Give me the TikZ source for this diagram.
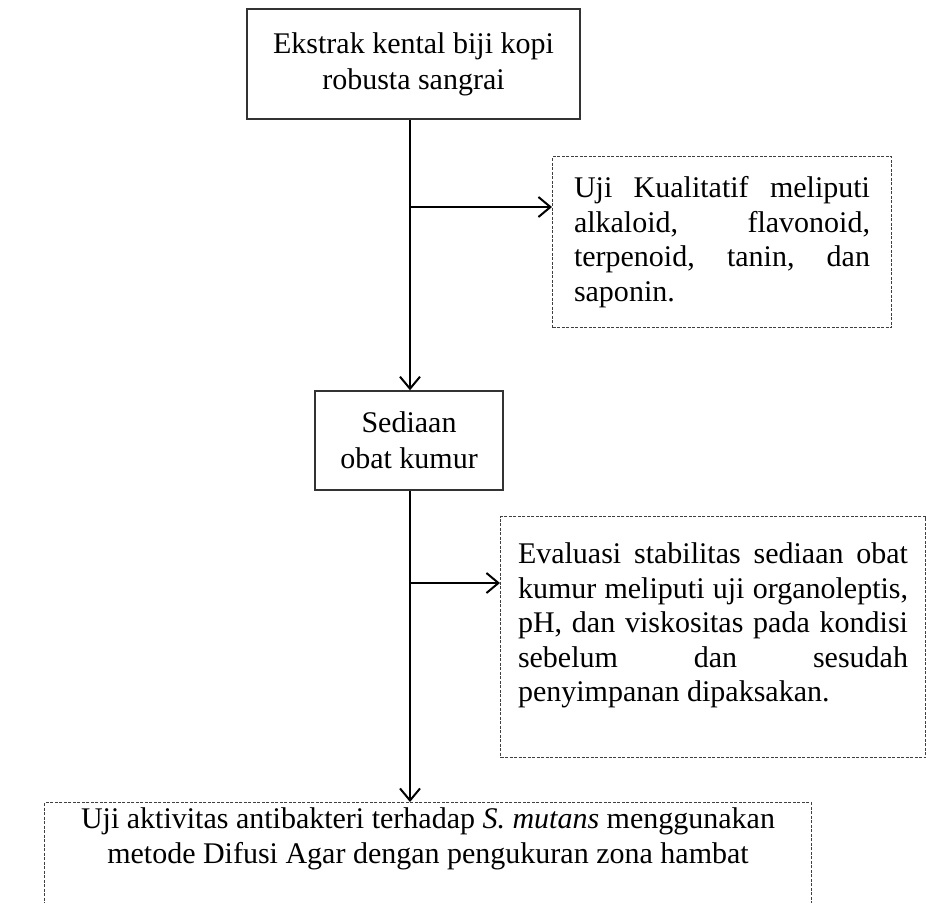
\documentclass[tikz,border=0pt]{standalone}
\usepackage{fontspec}
\setmainfont{Liberation Serif}
\usetikzlibrary{arrows.meta,calc}
\begin{document}
\begin{tikzpicture}[x=0.4pt,y=-0.4pt,
  txt/.style={font=\fontsize{12}{13.8}\selectfont},
  solidbox/.style={draw=black!80, line width=0.6pt, align=center, inner sep=0pt,
    font=\fontsize{12}{14.4}\selectfont},
  dotbox/.style={draw=black!75, line width=0.4pt, dash pattern=on 1.2pt off 0.6pt,
    txt},
  conn/.style={line width=1pt, draw=black},
  thinconn/.style={line width=0.55pt, draw=black},
  tip/.style={-{Straight Barb[length=4.8pt,width=8pt,line width=0.8pt]}}
]
\useasboundingbox (0,0) rectangle (926,902);

\coordinate (spine) at (410,0);
\coordinate (b1) at (410,207);
\coordinate (b2) at (410,583);

\node[solidbox, minimum width=133.2pt, minimum height=44pt] (top) at (413.5,64)
  {Ekstrak kental biji kopi\\robusta sangrai};

\node[dotbox, anchor=north west, text width=118.4pt, align=justify,
  inner xsep=8.6pt, inner ysep=0pt, minimum height=68.4pt] (q) at (552,156)
  {\hyphenpenalty=10000\tolerance=10000 Uji Kualitatif meliputi\linebreak
   alkaloid, flavonoid,\linebreak terpenoid, tanin, dan\linebreak saponin.};

\node[solidbox, minimum width=75.2pt, minimum height=39.6pt] (sed) at (409,440.5)
  {Sediaan\\obat kumur};

\node[dotbox, anchor=north west, text width=156pt, align=justify,
  inner xsep=7pt, inner ysep=10.6pt] (ev) at (500,516)
  {\hyphenpenalty=10000\tolerance=10000 Evaluasi stabilitas sediaan obat\linebreak
   kumur meliputi uji organoleptis,\linebreak pH, dan viskositas pada kondisi\linebreak
   sebelum dan sesudah\linebreak penyimpanan dipaksakan.\rule[-11.8pt]{0pt}{1pt}};

\node[dotbox, anchor=north, align=center, minimum width=306.4pt,
  inner xsep=0pt, inner ysep=2.2pt] (bot) at (428,802)
  {Uji aktivitas antibakteri terhadap \textit{S. mutans} menggunakan\\
   metode Difusi Agar dengan pengukuran zona hambat\rule[-30pt]{0pt}{1pt}};

\draw[conn, tip] (top.south -| spine) -- (sed.north -| spine);
\draw[conn, tip] (b1) -- (b1 -| q.west);
\draw[thinconn] (sed.south -| spine) -- (b2);
\draw[conn, tip] (b2) -- (bot.north -| spine);
\draw[conn, tip] (b2) -- (b2 -| ev.west);
\end{tikzpicture}
\end{document}
